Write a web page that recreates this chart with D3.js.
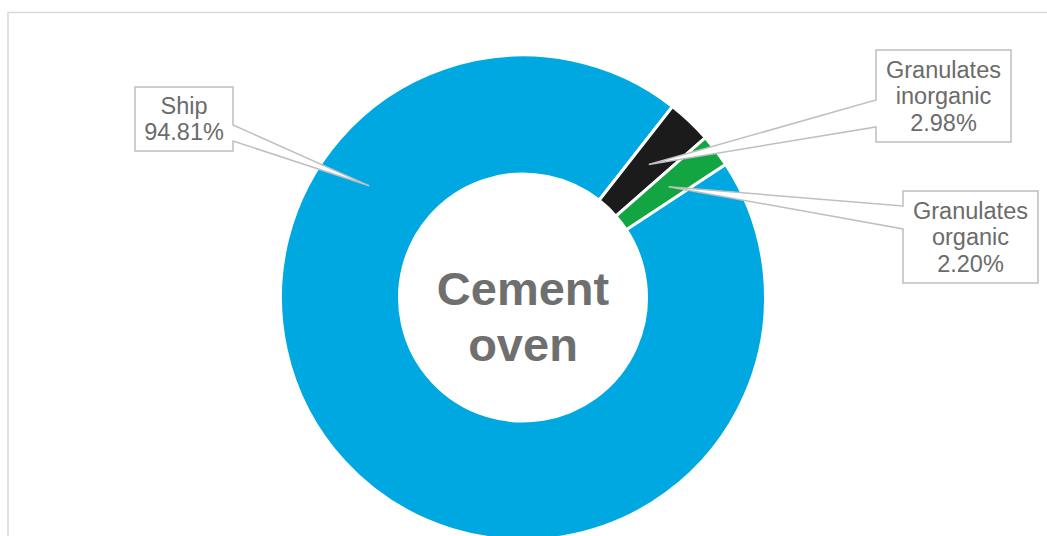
<!DOCTYPE html>
<meta charset="utf-8">
<html>
<head>
<title>Cement oven</title>
<script src="https://d3js.org/d3.v7.min.js"></script>
<style type="text/css">
body { margin: 0; background: #fff; }
.lbl { font-family: 'Liberation Sans', Arial, sans-serif; font-size: 23.5px; fill: #6b6b6b; }
.center { font-family: 'Liberation Sans', Arial, sans-serif; font-size: 47px; font-weight: bold; fill: #6f6f6f; }
</style>
</head>
<body>
<div id="my_dataviz"></div>
<script type="text/javascript">

// data
var categories = ["Ship", "Granulates inorganic", "Granulates organic"];
var values = [94.81, 2.98, 2.20];
var labelLines = [["Ship", "94.81%"], ["Granulates", "inorganic", "2.98%"], ["Granulates", "organic", "2.20%"]];
var centerLines = ["Cement", "oven"];
var colors = ["#00a8e1", "#1b1b1b", "#14a543"];

var width = 1047, height = 536;
var cx = 523, cy = 297.5, outerR = 242.5, innerR = 123.5;
var startDeg = 56.7;

// callout boxes (x, y, w, h), side the tail leaves from, tail base
var boxes = [
  {x: 135, y: 87, w: 98, h: 64, side: "right", t1: 125, t2: 141, anchorDeg: 306, anchorR: 190},
  {x: 876, y: 50, w: 135, h: 92, side: "left", t1: 100, t2: 127},
  {x: 903, y: 191, w: 135, h: 92, side: "left", t1: 206, t2: 229}
];

var svg = d3.select("#my_dataviz")
  .append("svg")
    .attr("width", width)
    .attr("height", height);

// chart frame
svg.append("rect")
  .attr("x", 8).attr("y", 12.5)
  .attr("width", 1100).attr("height", 600)
  .attr("fill", "none")
  .attr("stroke", "#d9d9d9")
  .attr("stroke-width", 1.5);

var data = categories.map(function(c, i) { return {name: c, value: values[i]}; });

var pie = d3.pie()
  .sort(null)
  .value(function(d) { return d.value; })
  .startAngle(startDeg * Math.PI / 180)
  .endAngle(startDeg * Math.PI / 180 + 2 * Math.PI);

var arc = d3.arc().innerRadius(innerR).outerRadius(outerR);
var arcs = pie(data);

var g = svg.append("g").attr("transform", "translate(" + cx + "," + cy + ")");

g.selectAll("path")
  .data(arcs)
  .enter()
  .append("path")
    .attr("d", arc)
    .attr("fill", function(d, i) { return colors[i]; })
    .attr("stroke", "#fff")
    .attr("stroke-width", 3);

// centre title
g.append("text")
  .attr("class", "center")
  .attr("text-anchor", "middle")
  .selectAll("tspan")
  .data(centerLines)
  .enter()
  .append("tspan")
    .attr("x", 0)
    .attr("y", function(d, i) { return 7.5 + i * 56; })
    .text(function(d) { return d; });

// callouts
arcs.forEach(function(a, i) {
  var b = boxes[i];
  var p;
  if (b.anchorDeg !== undefined) {
    var ang = b.anchorDeg * Math.PI / 180;
    p = [b.anchorR * Math.sin(ang), -b.anchorR * Math.cos(ang)];
  } else {
    p = arc.centroid(a);
  }
  var px = cx + p[0], py = cy + p[1];
  var path = d3.path();
  if (b.side === "right") {
    path.moveTo(b.x, b.y);
    path.lineTo(b.x + b.w, b.y);
    path.lineTo(b.x + b.w, b.t1);
    path.lineTo(px, py);
    path.lineTo(b.x + b.w, b.t2);
    path.lineTo(b.x + b.w, b.y + b.h);
    path.lineTo(b.x, b.y + b.h);
  } else {
    path.moveTo(b.x, b.y);
    path.lineTo(b.x + b.w, b.y);
    path.lineTo(b.x + b.w, b.y + b.h);
    path.lineTo(b.x, b.y + b.h);
    path.lineTo(b.x, b.t2);
    path.lineTo(px, py);
    path.lineTo(b.x, b.t1);
  }
  path.closePath();
  svg.append("path")
    .attr("d", path.toString())
    .attr("fill", "#fff")
    .attr("stroke", "#bfbfbf")
    .attr("stroke-width", 1.5)
    .attr("stroke-linejoin", "miter");

  var lines = labelLines[i];
  var lh = 26.5, fs = 23.5;
  var mid = b.y + b.h / 2;
  svg.append("text")
    .attr("class", "lbl")
    .attr("text-anchor", "middle")
    .selectAll("tspan")
    .data(lines)
    .enter()
    .append("tspan")
      .attr("x", b.x + b.w / 2)
      .attr("y", function(d, j) { return mid + (j - (lines.length - 1) / 2) * lh + 0.35 * fs; })
      .text(function(d) { return d; });
});

</script>
</body>
</html>
